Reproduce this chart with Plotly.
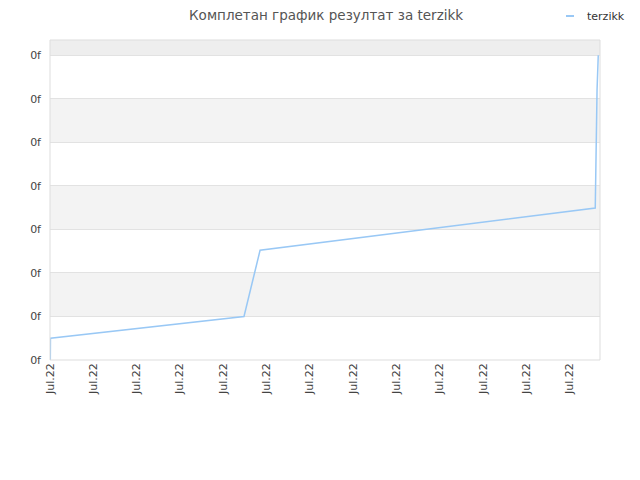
import pandas as pd
import plotly.graph_objects as go

# data
dates = pd.to_datetime(["2022-07-01 00:10", "2022-07-01 00:15", "2022-07-05 11:30",
                        "2022-07-05 20:25", "2022-07-13 14:10", "2022-07-13 14:40",
                        "2022-07-13 15:10", "2022-07-13 15:50"])
scores = [0, 0.5, 1.0, 2.52, 3.49, 4.9, 6.2, 7.0]
y_ticks = [0, 1, 2, 3, 4, 5, 6, 7]
y_labels = ["0f"] * len(y_ticks)
player = "terzikk"
line_color = "#99c8f5"

fig = go.Figure()
fig.add_trace(go.Scatter(x=dates, y=scores, mode="lines", name=player,
                         line=dict(color=line_color, width=1.5)))

# alternating band background
shapes = []
for lo in [1, 3, 5]:
    shapes.append(dict(type="rect", xref="paper", yref="y", x0=0, x1=1, y0=lo, y1=lo + 1,
                       fillcolor="#f3f3f3", line_width=0, layer="below"))
shapes.append(dict(type="rect", xref="paper", yref="y", x0=0, x1=1, y0=7, y1=7.35,
                   fillcolor="#eeeeee", line_width=0, layer="below"))
shapes.append(dict(type="rect", xref="paper", yref="paper", x0=0, x1=1, y0=0, y1=1,
                   line=dict(color="#dddddd", width=1)))
# small legend marker (plotly's own legend symbol is much longer)
shapes.append(dict(type="line", xref="paper", yref="paper", x0=1.0 - 34 / 550, x1=1.0 - 26 / 550,
                   y0=1 + 24 / 320, y1=1 + 24 / 320, line=dict(color=line_color, width=2)))

fig.update_layout(
    width=640, height=480,
    margin=dict(l=42, r=48, t=32, b=128, autoexpand=False),
    plot_bgcolor="white", paper_bgcolor="white",
    font=dict(family="DejaVu Sans", size=11, color="#444"),
    title=dict(text="Комплетан график резултат за " + player, x=0.497, xanchor="center",
               y=0.984, yanchor="middle", font=dict(size=13.5, color="#555")),
    showlegend=False,
    shapes=shapes,
    annotations=[dict(text=player, xref="paper", yref="paper", x=1.0 - 15 / 550, y=1 + 24 / 320,
                      xanchor="left", yanchor="middle", showarrow=False,
                      font=dict(size=11, color="#333"))],
)
fig.update_xaxes(type="date", range=["2022-07-01", "2022-07-13 16:48"],
                 dtick=86400000, tick0="2022-07-01", tickformat="%b.%y",
                 tickangle=-90, showgrid=False, zeroline=False, ticks="",
                 tickfont=dict(size=11, color="#444"))
fig.update_yaxes(range=[0, 7.35], tickvals=y_ticks, ticktext=y_labels,
                 showgrid=True, gridcolor="#e2e2e2", zeroline=False, ticks="",
                 ticklabelstandoff=8, tickfont=dict(size=11, color="#444"))

fig.write_html("out.html")
